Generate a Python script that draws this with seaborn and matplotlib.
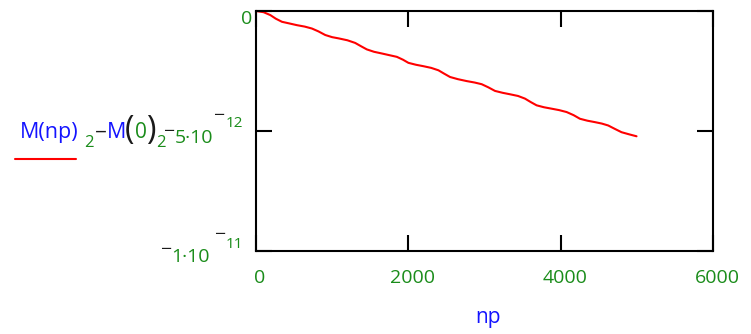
import numpy as np
import pandas as pd
import matplotlib.pyplot as plt
import matplotlib.transforms as mtransforms
from matplotlib.lines import Line2D
import seaborn as sns

# curve, y in units of 1e-12
np_steps = [0, 100, 188, 260, 341, 440, 537, 640, 734, 820, 909, 1000, 1084, 1200, 1302,
            1380, 1455, 1550, 1652, 1750, 1849, 1930, 2001, 2100, 2198, 2300, 2395, 2470,
            2548, 2650, 2766, 2870, 2963, 3050, 3138, 3240, 3335, 3440, 3531, 3610, 3684,
            3780, 3881, 3980, 4078, 4170, 4253, 4350, 4449, 4540, 4624, 4710, 4799, 4900, 4996]
m_diff_e12 = [0.0, -0.05, -0.17, -0.32, -0.45, -0.52, -0.59, -0.65, -0.73, -0.85, -1.00,
              -1.09, -1.14, -1.22, -1.33, -1.47, -1.60, -1.70, -1.77, -1.84, -1.91, -2.03,
              -2.16, -2.24, -2.30, -2.37, -2.47, -2.61, -2.75, -2.84, -2.92, -2.98, -3.05,
              -3.18, -3.33, -3.41, -3.47, -3.54, -3.65, -3.80, -3.93, -4.01, -4.07, -4.13,
              -4.21, -4.34, -4.49, -4.57, -4.63, -4.69, -4.77, -4.91, -5.05, -5.14, -5.22]
x_ticks = [0, 2000, 4000, 6000]
x_tick_labels = ['0', '2000', '4000', '6000']
y_ticks = [0, -5e-12, -1e-11]

GREEN = '#1a8c1a'
BLUE = '#1414ff'
BLACK = '#1a1a1a'
W, H = 751, 334

sns.set_style('white')
plt.rcParams['font.family'] = ['Open Sans', 'DejaVu Sans']

fig = plt.figure(figsize=(W / 100, H / 100), dpi=100)
ax = fig.add_axes([256 / W, 1 - 251 / H, 457 / W, 240 / H])

df = pd.DataFrame({'np': np_steps, 'diff': np.array(m_diff_e12) * 1e-12})
sns.lineplot(data=df, x='np', y='diff', color='red', lw=1.5, ax=ax)
ax.set_xlim(0, 6000)
ax.set_ylim(-1e-11, 0)
ax.set_xticks(x_ticks)
ax.set_yticks(y_ticks)
ax.tick_params(direction='in', length=11.5, width=1.5, color='black',
               bottom=True, left=True, top=True, right=True,
               labelbottom=False, labelleft=False)
for s in ax.spines.values():
    s.set_color('black')
    s.set_linewidth(1.5)
ax.set_xlabel('')
ax.set_ylabel('')


def put(x, y, s, color, size, ha='left', va='baseline'):
    fig.text(x / W, 1 - y / H, s, color=color, fontsize=size, ha=ha, va=va)


def ytxt(tick, dx, dy, s, color, size, ha='right'):
    tr = mtransforms.offset_copy(ax.get_yaxis_transform(), fig=fig, x=dx, y=dy, units='dots')
    ax.text(0, tick, s, transform=tr, color=color, fontsize=size, ha=ha, va='baseline')


# x tick labels
xtr = mtransforms.offset_copy(ax.get_xaxis_transform(), fig=fig, x=4, y=-32, units='dots')
for v, lab in zip(x_ticks, x_tick_labels):
    ax.text(v, 0, lab, transform=xtr, ha='center', va='baseline', color=GREEN, fontsize=14)

# y tick labels
ytxt(y_ticks[0], -4, -13, '0', GREEN, 14)

ytxt(y_ticks[1], -87, -6, '\u2212', BLACK, 14, ha='center')
ytxt(y_ticks[1], -43, -12, '5\u00b710', GREEN, 14)
ytxt(y_ticks[1], -37, 10, '\u2212', BLACK, 14, ha='center')
ytxt(y_ticks[1], -13, 4, '12', GREEN, 11)

ytxt(y_ticks[2], -90, -4, '\u2212', BLACK, 14, ha='center')
ytxt(y_ticks[2], -46, -11, '1\u00b710', GREEN, 14)
ytxt(y_ticks[2], -36, 11, '\u2212', BLACK, 14, ha='center')
ytxt(y_ticks[2], -13, 3, '11', GREEN, 11)

# y axis expression
put(20, 138, 'M(np)', BLUE, 15.5)
put(84, 147, '2', GREEN, 12)
put(101, 139, '\u2212', BLACK, 15, ha='center')
put(107, 138, 'M', BLUE, 15.5)
put(125, 139, '(', BLACK, 23)
put(135, 138, '0', GREEN, 15)
put(146, 139, ')', BLACK, 23)
put(156, 147, '2', GREEN, 12)
fig.add_artist(Line2D([15 / W, 76 / W], [1 - 159 / H] * 2, color='red', lw=1.5))

# x axis name
put(488, 323, 'np', BLUE, 15, ha='center')

fig.savefig('out.png', dpi=100)
